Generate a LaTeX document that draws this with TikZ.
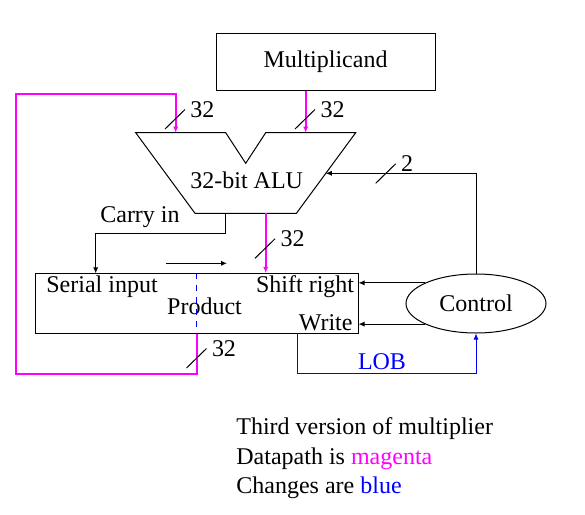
\documentclass[tikz,border=0pt]{standalone}
\usepackage{fontspec}
\setmainfont{Liberation Serif}
\usetikzlibrary{arrows.meta,shapes.geometric}

\definecolor{datapath}{RGB}{255,0,255}
\definecolor{change}{RGB}{0,0,255}

\tikzset{
  wire/.style={line width=0.5pt,-{Latex[length=3pt,width=2.6pt]}},
  data/.style={wire,datapath,line width=1pt},
  chg/.style={wire,change},
  box/.style={draw,line width=0.5pt,inner sep=0pt},
  lbl/.style={inner sep=0pt}
}

\begin{document}
\begin{tikzpicture}[x=0.5pt,y=-0.5pt,font=\fontsize{12}{14}\selectfont]
  \useasboundingbox (0,0) rectangle (585,515);

  \node[box,minimum width=109.5pt,minimum height=28.5pt] (mcand) at (325.5,61.5) {Multiplicand};
  \node[box,minimum width=161.2pt,minimum height=30pt] (prod) at (196.9,303.3) {};
  \node[box,ellipse,minimum width=70pt,minimum height=29.5pt] (ctrl) at (476,303.5) {Control};

  % the ALU
  \draw[line width=0.5pt] (135.7,132.7) -- (225.7,132.7) -- (245.7,163.3) -- (265.7,132.7)
       -- (355.7,132.7) -- (296.4,213.3) -- (195,213.3) -- cycle;
  \node[lbl] (alu) at (246.7,180) {32-bit ALU};
  \coordinate (aluL) at (175.7,132.7);
  \coordinate (aluR) at (305.7,132.7);
  \coordinate (aluO) at (265.7,213.3);
  \coordinate (aluC) at (225.7,213.3);
  \coordinate (aluS) at (325.8,173.3);
  \coordinate (serin) at (95.7,273.3);
  \coordinate (loop) at (16,94);
  \coordinate (lob) at (297,333.3);
  \coordinate (sh1) at (165.7,263.3);
  \coordinate (sh2) at (227,263.3);

  \node[lbl] (carry) at (140,216.7) {Carry in};
  \node[lbl] (serial) at (102,286.7) {Serial input};
  \node[lbl] (prodtxt) at (204.5,306.7) {Product};
  \node[lbl,anchor=east] (shift) at (354.5,286.7) {Shift right};
  \node[lbl] (write) at (325.7,322.5) {Write};
  \node[lbl,change] (lobtxt) at (382,361.7) {LOB};

  \draw[change,dashed,line width=0.5pt] (prod.north) -- (prod.south);

  % datapath
  \draw[data] (mcand.south -| aluR) -- (aluR);
  \draw[data] (aluO) -- (aluO |- prod.north);
  \draw[data] (prod.south) -- ++(0,40) -| (loop) -| (aluL);

  % control lines
  \draw[wire] (aluC) -- ++(0,20) -| (serin);
  \draw[wire] (sh1) -- (sh2);
  \draw[wire] (ctrl.158) -- (ctrl.158 -| prod.east);
  \draw[wire] (ctrl.202) -- (ctrl.202 -| prod.east);
  \draw[wire] (ctrl.north) |- (aluS);
  \draw[chg] (lob) -- ++(0,40) -| (ctrl.south);

  % bus widths
  \foreach \sx/\sy/\w in {165/129/32, 295/129/32, 255/258.3/32, 186.5/368/32, 375.7/183.3/2}
    \draw[line width=0.5pt] (\sx,\sy) -- ++(20,-19.5) node[right,inner sep=2.5pt] {\w};

  \node[lbl,anchor=north west,align=left,font=\fontsize{12}{14.85}\selectfont] (notes) at (236,417)
    {Third version of multiplier\\
     Datapath is \textcolor{datapath}{magenta}\\
     Changes are \textcolor{change}{blue}};
\end{tikzpicture}
\end{document}
